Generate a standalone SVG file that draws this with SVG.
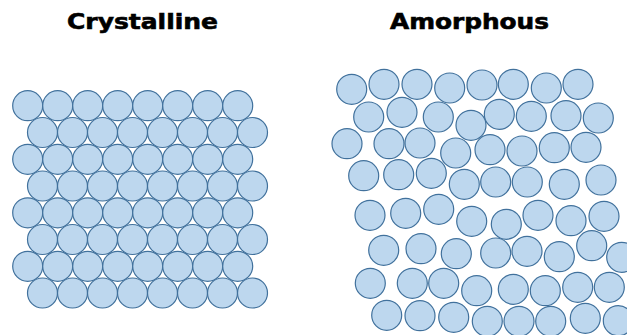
<svg xmlns="http://www.w3.org/2000/svg" width="627" height="335" viewBox="0 0 627 335">
<style>
.t{font-family:"DejaVu Sans","Liberation Sans",sans-serif;font-weight:bold;font-size:21px;fill:#000;stroke:#000;stroke-width:0.6}
circle{fill:#BDD7EE;stroke:#41719C;stroke-width:1.2}
</style>
<rect width="627" height="335" fill="#fff"/>
<g id="title-crystalline"><text class="t" x="67" y="28.5" textLength="151" lengthAdjust="spacingAndGlyphs">Crystalline</text></g>
<g id="title-amorphous"><text class="t" x="390" y="28.5" textLength="159" lengthAdjust="spacingAndGlyphs">Amorphous</text></g>
<g id="crystalline">
<circle cx="27.7" cy="105.7" r="15"/><circle cx="57.7" cy="105.7" r="15"/><circle cx="87.7" cy="105.7" r="15"/><circle cx="117.7" cy="105.7" r="15"/><circle cx="147.7" cy="105.7" r="15"/><circle cx="177.7" cy="105.7" r="15"/><circle cx="207.7" cy="105.7" r="15"/><circle cx="237.7" cy="105.7" r="15"/>
<circle cx="42.5" cy="132.5" r="15"/><circle cx="72.5" cy="132.5" r="15"/><circle cx="102.5" cy="132.5" r="15"/><circle cx="132.5" cy="132.5" r="15"/><circle cx="162.5" cy="132.5" r="15"/><circle cx="192.5" cy="132.5" r="15"/><circle cx="222.5" cy="132.5" r="15"/><circle cx="252.5" cy="132.5" r="15"/>
<circle cx="27.7" cy="159.3" r="15"/><circle cx="57.7" cy="159.3" r="15"/><circle cx="87.7" cy="159.3" r="15"/><circle cx="117.7" cy="159.3" r="15"/><circle cx="147.7" cy="159.3" r="15"/><circle cx="177.7" cy="159.3" r="15"/><circle cx="207.7" cy="159.3" r="15"/><circle cx="237.7" cy="159.3" r="15"/>
<circle cx="42.5" cy="186" r="15"/><circle cx="72.5" cy="186" r="15"/><circle cx="102.5" cy="186" r="15"/><circle cx="132.5" cy="186" r="15"/><circle cx="162.5" cy="186" r="15"/><circle cx="192.5" cy="186" r="15"/><circle cx="222.5" cy="186" r="15"/><circle cx="252.5" cy="186" r="15"/>
<circle cx="27.7" cy="212.8" r="15"/><circle cx="57.7" cy="212.8" r="15"/><circle cx="87.7" cy="212.8" r="15"/><circle cx="117.7" cy="212.8" r="15"/><circle cx="147.7" cy="212.8" r="15"/><circle cx="177.7" cy="212.8" r="15"/><circle cx="207.7" cy="212.8" r="15"/><circle cx="237.7" cy="212.8" r="15"/>
<circle cx="42.5" cy="239.5" r="15"/><circle cx="72.5" cy="239.5" r="15"/><circle cx="102.5" cy="239.5" r="15"/><circle cx="132.5" cy="239.5" r="15"/><circle cx="162.5" cy="239.5" r="15"/><circle cx="192.5" cy="239.5" r="15"/><circle cx="222.5" cy="239.5" r="15"/><circle cx="252.5" cy="239.5" r="15"/>
<circle cx="27.7" cy="266.3" r="15"/><circle cx="57.7" cy="266.3" r="15"/><circle cx="87.7" cy="266.3" r="15"/><circle cx="117.7" cy="266.3" r="15"/><circle cx="147.7" cy="266.3" r="15"/><circle cx="177.7" cy="266.3" r="15"/><circle cx="207.7" cy="266.3" r="15"/><circle cx="237.7" cy="266.3" r="15"/>
<circle cx="42.5" cy="293" r="15"/><circle cx="72.5" cy="293" r="15"/><circle cx="102.5" cy="293" r="15"/><circle cx="132.5" cy="293" r="15"/><circle cx="162.5" cy="293" r="15"/><circle cx="192.5" cy="293" r="15"/><circle cx="222.5" cy="293" r="15"/><circle cx="252.5" cy="293" r="15"/>
</g>
<g id="amorphous">
<circle cx="351.7" cy="89.3" r="15"/><circle cx="384" cy="84.3" r="15"/><circle cx="417" cy="84.3" r="15"/><circle cx="449.7" cy="88" r="15"/><circle cx="482" cy="85" r="15"/><circle cx="513.3" cy="84.3" r="15"/><circle cx="546.3" cy="88" r="15"/><circle cx="578" cy="84.3" r="15"/>
<circle cx="368.7" cy="117" r="15"/><circle cx="402" cy="112.3" r="15"/><circle cx="438.3" cy="117" r="15"/><circle cx="471" cy="125.3" r="15"/><circle cx="499.3" cy="114.3" r="15"/><circle cx="531.3" cy="116.3" r="15"/><circle cx="566" cy="115.7" r="15"/><circle cx="598.3" cy="118" r="15"/>
<circle cx="347" cy="143.7" r="15"/><circle cx="389" cy="143.7" r="15"/><circle cx="420" cy="143" r="15"/><circle cx="455.7" cy="153" r="15"/><circle cx="490" cy="149.7" r="15"/><circle cx="522" cy="151" r="15"/><circle cx="554.3" cy="147.7" r="15"/><circle cx="586" cy="147.3" r="15"/>
<circle cx="363.7" cy="175.7" r="15"/><circle cx="398.7" cy="174.7" r="15"/><circle cx="431.3" cy="173.3" r="15"/><circle cx="464.3" cy="184.3" r="15"/><circle cx="495.7" cy="182" r="15"/><circle cx="527.3" cy="182" r="15"/><circle cx="564.3" cy="184.3" r="15"/><circle cx="601" cy="180" r="15"/>
<circle cx="370" cy="215.3" r="15"/><circle cx="405.7" cy="213.3" r="15"/><circle cx="438.7" cy="209.3" r="15"/><circle cx="471.7" cy="221.3" r="15"/><circle cx="506.3" cy="224.3" r="15"/><circle cx="538" cy="215.3" r="15"/><circle cx="571" cy="220.7" r="15"/><circle cx="604" cy="216.3" r="15"/>
<circle cx="383.7" cy="250.3" r="15"/><circle cx="421" cy="248.7" r="15"/><circle cx="456.3" cy="253.7" r="15"/><circle cx="495.7" cy="253" r="15"/><circle cx="527" cy="251.3" r="15"/><circle cx="559.3" cy="256.7" r="15"/><circle cx="591.7" cy="245.7" r="15"/><circle cx="621.7" cy="257.3" r="15"/>
<circle cx="370.3" cy="283.3" r="15"/><circle cx="412.3" cy="283.3" r="15"/><circle cx="443.7" cy="283.3" r="15"/><circle cx="476.7" cy="290.7" r="15"/><circle cx="513.3" cy="289.3" r="15"/><circle cx="545.3" cy="290.7" r="15"/><circle cx="577.7" cy="287.3" r="15"/><circle cx="609.3" cy="287.3" r="15"/>
<circle cx="386.7" cy="315.3" r="15"/><circle cx="420" cy="315.7" r="15"/><circle cx="453.7" cy="317.3" r="15"/><circle cx="487.3" cy="321.3" r="15"/><circle cx="519" cy="321.3" r="15"/><circle cx="550.7" cy="321.3" r="15"/><circle cx="585.3" cy="318.3" r="15"/><circle cx="618.3" cy="320.7" r="15"/>
</g>
</svg>
